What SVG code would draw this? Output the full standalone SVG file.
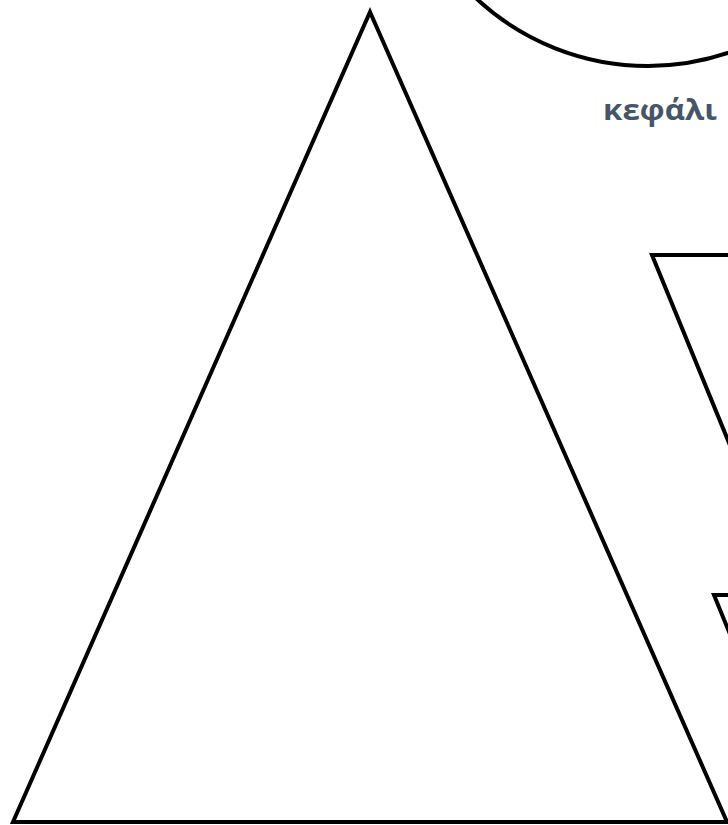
<svg xmlns="http://www.w3.org/2000/svg" width="728" height="825" viewBox="0 0 728 825">
<style>
.shape{fill:none;stroke:#000;stroke-width:4;stroke-linejoin:miter}
.lbl{font-family:"Open Sans","DejaVu Sans",sans-serif;font-weight:700;font-size:28px;fill:#475569}
</style>
<rect width="728" height="825" fill="#fff"/>
<g id="head">
<circle class="shape" cx="648" cy="-186" r="252"/>
</g>
<g id="body">
<polygon class="shape" points="370,12 727,822 13,822"/>
</g>
<g id="arm-upper">
<polygon class="shape" points="652,255 948,255 800,616"/>
</g>
<g id="arm-lower">
<polygon class="shape" points="714,595 1010,595 862,956"/>
</g>
<g id="label-head">
<text class="lbl" x="603" y="120" textLength="114" lengthAdjust="spacingAndGlyphs">κεφάλι</text>
</g>
<g id="connectors"></g>
</svg>
